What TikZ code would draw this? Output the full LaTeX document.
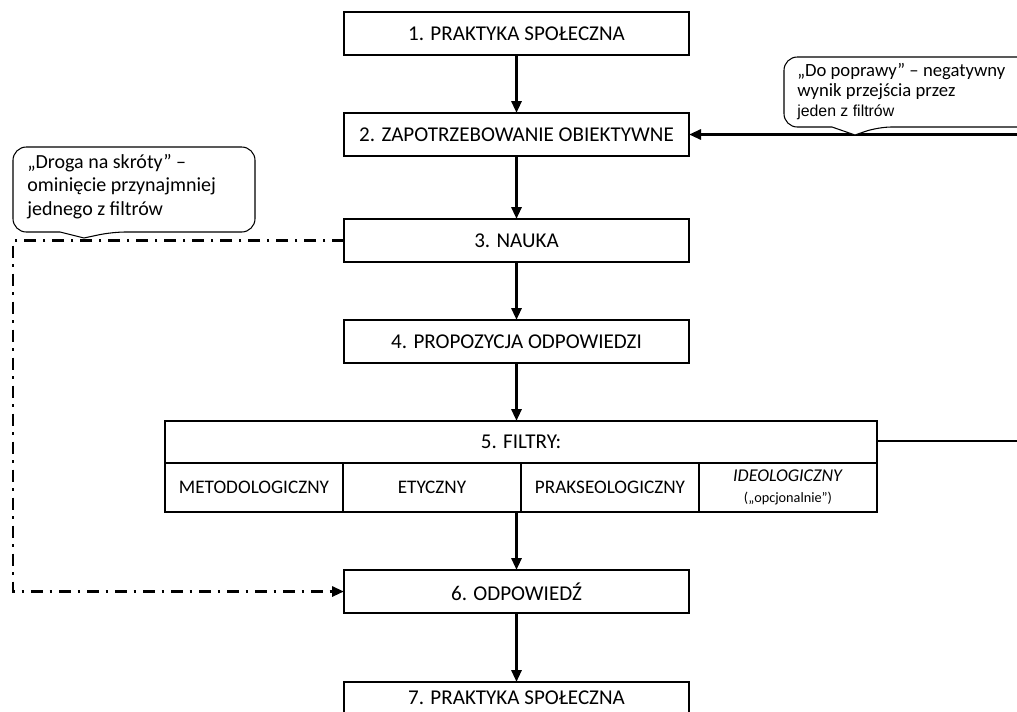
\documentclass[tikz,border=0pt]{standalone}
\usepackage{fontspec}
\setmainfont{Carlito}
\newfontfamily\arialfont{Liberation Sans}
\usetikzlibrary{arrows.meta}
\tikzset{
  box/.style={draw, line width=1.1pt, outer sep=0pt, minimum width=345*0.75pt, minimum height=43*0.75pt, inner sep=0pt, font=\fontsize{15.8}{18}\selectfont, fill=white},
  cell/.style={draw, line width=0.8pt, outer sep=0pt, minimum width=178*0.75pt, minimum height=49*0.75pt, inner sep=0pt, font=\fontsize{14.4}{16}\selectfont, align=center},
  flow/.style={line width=2.2pt, -{Triangle[length=9pt,width=7.5pt]}},
  feed/.style={line width=2.2pt},
  shortcut/.style={line width=2.2pt, dash pattern=on 9pt off 5pt on 2pt off 5pt},
  callout/.style={draw, line width=0.8pt, fill=white},
  ctext/.style={align=left, inner sep=0pt, anchor=north west}
}
\begin{document}
\begin{tikzpicture}[x=0.75pt,y=-0.75pt]
\useasboundingbox (0,0) rectangle (1017,711);
\clip (0,0) rectangle (1017,711);
% main boxes
\node[box] (b1) at (516.5,33.5) {1. PRAKTYKA SPOŁECZNA};
\node[box] (b2) at (516.5,134.5) {2. ZAPOTRZEBOWANIE OBIEKTYWNE};
\node[box] (b3) at (516.5,240.5) {3. NAUKA};
\node[box] (b4) at (516.5,341.5) {4. PROPOZYCJA ODPOWIEDZI};
\node[box, minimum width=712*0.75pt, minimum height=42*0.75pt] (b5) at (521,442) {5. FILTRY:};
\node[cell, anchor=north west] (f1) at (b5.south west) {METODOLOGICZNY};
\node[cell, anchor=north west] (f2) at (f1.north east) {ETYCZNY};
\node[cell, anchor=north west] (f3) at (f2.north east) {PRAKSEOLOGICZNY};
\node[cell, anchor=north west] (f4) at (f3.north east) {{\fontsize{13.5}{15}\selectfont\textit{IDEOLOGICZNY}}\\[0pt]{\fontsize{10.7}{12}\selectfont („opcjonalnie”)}};
\node[box] (b6) at (516.5,591.5) {6. ODPOWIEDŹ};
\node[box, minimum height=32*0.75pt] (b7) at (516.5,698) {7. PRAKTYKA SPOŁECZNA};
% flow arrows
\draw[flow] (b1) -- (b2);
\draw[flow] (b2) -- (b3);
\draw[flow] (b3) -- (b4);
\draw[flow] (b4.south) -- (b4.south |- b5.north);
\draw[flow] (b6.north |- f2.south) -- (b6.north);
\draw[flow] (b6) -- (b7);
% feedback lines
\coordinate (r1) at (1030,134.5);
\coordinate (r2) at (1030,441);
\draw[feed, -{Triangle[length=9pt,width=7.5pt]}] (r1) -- (b2.east);
\draw[feed] (b5.east |- r2) -- (r2);
% shortcut
\coordinate (s1) at (13,240.5);
\coordinate (s2) at (13,591.5);
\draw[shortcut, -{Triangle[length=9pt,width=7.5pt]}] (b3.west) -- (s1) -- (s2) -- (b6.west);
% callout left
\draw[callout] [rounded corners=10] (60,232) -- (13,232) -- (13,147) -- (255,147) -- (255,232) -- (112,232) [sharp corners] -- (84,238) -- (60,232) -- cycle;
\node[ctext, font=\fontsize{15}{17.6}\selectfont] (t1) at (27,154) {„Droga na skróty” –\\ominięcie przynajmniej\\jednego z filtrów};
% callout right
\draw[callout] [rounded corners=10] (832,127) -- (784,127) -- (784,57) -- (1040,57) -- (1040,127) -- (878,127) [sharp corners] -- (855,135) -- (832,127) -- cycle;
\node[ctext, font=\fontsize{14}{14.6}\selectfont] (t2) at (797,63.5) {„Do poprawy” – negatywny\\wynik przejścia przez\\[0.5pt]{\arialfont\fontsize{11.9}{13}\selectfont jeden z filtrów}};
\end{tikzpicture}
\end{document}
